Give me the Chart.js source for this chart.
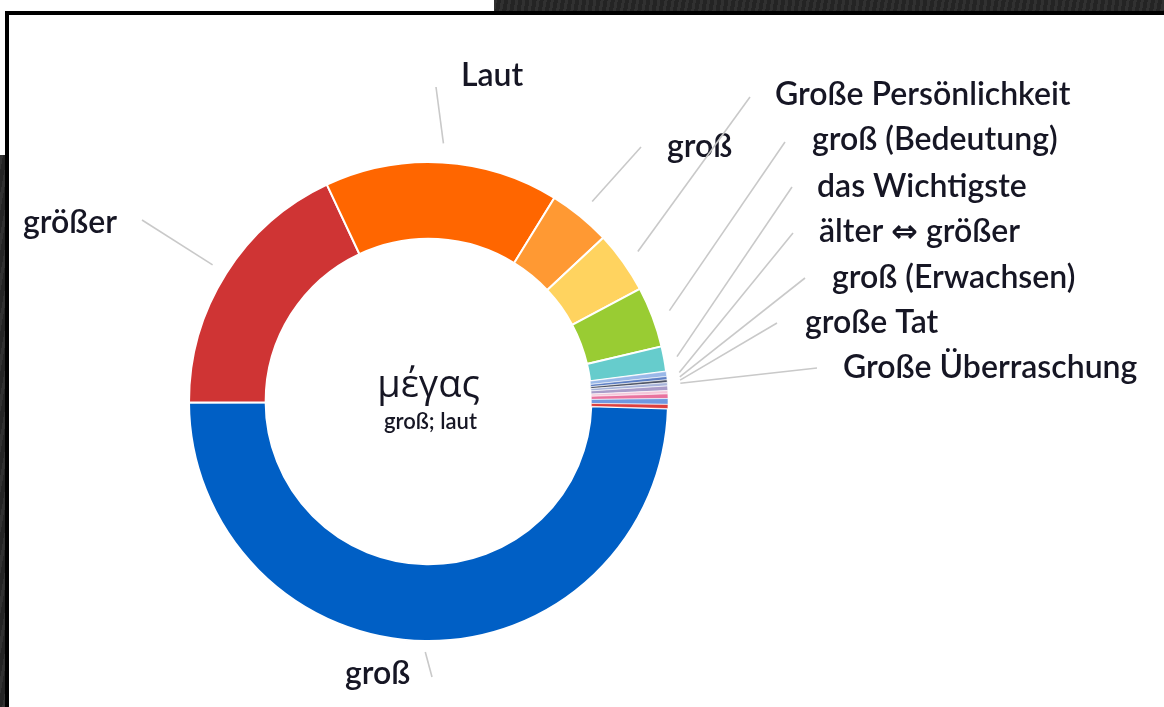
<!DOCTYPE html>
<html>
<head>
<meta charset="utf-8">
<script src="https://cdn.jsdelivr.net/npm/chart.js@4.4.1/dist/chart.umd.min.js"></script>
<style>
html,body{margin:0;padding:0;width:1164px;height:707px;overflow:hidden;background:#fff;}
.dark{position:absolute;background:#242424;background-image:repeating-linear-gradient(100deg,rgba(255,255,255,0.06) 0 3px,rgba(0,0,0,0) 3px 7px);}
.blk{position:absolute;background:#000;}
#wrap{position:absolute;left:0;top:0;width:1164px;height:707px;}
</style>
</head>
<body>
<div class="dark" style="left:494px;top:0;width:670px;height:13px"></div>
<div class="dark" style="left:0;top:155px;width:6px;height:552px"></div>
<div class="blk" style="left:5px;top:11px;width:1159px;height:4px"></div>
<div class="blk" style="left:5px;top:11px;width:4px;height:696px"></div>
<div id="wrap"><canvas id="c" width="1164" height="707"></canvas></div>
<script>
// ---- data ----
const categories = ['groß','größer','Laut','groß','Große Persönlichkeit','groß (Bedeutung)','das Wichtigste','älter ⇔ größer','groß (Erwachsen)','große Tat','Große Überraschung','','','','',''];
const shares = [49.5,18.1,15.8,4.2,4.2,4.1,1.7,0.33,0.22,0.19,0.22,0.31,0.22,0.31,0.39,0.28];
const centerTitle = 'μέγας';
const centerSubtitle = 'groß; laut';

// ---- styles / layout ----
const sliceColors = ['#005fc5','#cf3434','#ff6600','#ff9933','#ffd35f','#99cc33','#66cccc','#9ab8e8','#5d7fc4','#4f5566','#a7b3d9','#a99cc9','#f3c6da','#e9739f','#6f98e0','#dc3f3f'];
const sliceBorders = [2,2,2,2,2,2,2,0.6,0.6,0.6,0.6,0.6,0.6,0.6,0.6,0.6];
// label placement: text left/baseline, leader end point, gap from ring
const labelLayout = {
  0:{tx:345,ty:684,ex:432,ey:677,gap:11},
  1:{tx:23,ty:233,ex:142,ey:220,gap:16},
  2:{tx:461,ty:86,ex:436,ey:87,gap:19},
  3:{tx:667,ty:157,ex:641,ey:147,gap:19},
  4:{tx:775,ty:105,ex:750,ey:97,gap:18},
  5:{tx:812,ty:150,ex:785,ey:142,gap:18},
  6:{tx:817,ty:197,ex:792,ey:187,gap:13},
  7:{tx:819,ty:242,ex:793,ey:233,gap:13},
  8:{tx:832,ty:288,ex:805,ey:278,gap:13},
  9:{tx:805,ty:333,ex:777,ey:323,gap:13},
  10:{tx:843,ty:378,ex:817,ey:368,gap:13}
};
const textColor = '#161624';
const labelFont = '600 32px Lato, "Open Sans", "DejaVu Sans", sans-serif';

const labelPlugin = {
  id:'labels',
  afterDatasetsDraw(chart){
    const ctx = chart.ctx;
    const meta = chart.getDatasetMeta(0);
    ctx.save();
    meta.data.forEach((arc,i)=>{
      const L = labelLayout[i];
      if(!L || !categories[i]) return;
      const p = arc.getProps(['x','y','startAngle','endAngle','outerRadius'],true);
      const mid = (p.startAngle+p.endAngle)/2;
      const r = p.outerRadius + L.gap;
      const sx = p.x + Math.cos(mid)*r, sy = p.y + Math.sin(mid)*r;
      ctx.strokeStyle = '#c9c9c9';
      ctx.lineWidth = 1.6;
      ctx.beginPath(); ctx.moveTo(sx,sy); ctx.lineTo(L.ex,L.ey); ctx.stroke();
      ctx.fillStyle = textColor;
      ctx.font = labelFont;
      ctx.textAlign='left'; ctx.textBaseline='alphabetic';
      ctx.fillText(categories[i], L.tx, L.ty);
    });
    const a0 = meta.data[0];
    const cx = a0.x, cy = a0.y;
    ctx.textAlign='center'; ctx.textBaseline='alphabetic';
    ctx.fillStyle = textColor;
    ctx.font = '38px "Open Sans", "DejaVu Sans", sans-serif';
    ctx.fillText(centerTitle, cx, cy-5);
    ctx.font = '600 22px Lato, "Open Sans", "DejaVu Sans", sans-serif';
    ctx.fillText(centerSubtitle, cx+2, cy+27);
    ctx.restore();
  }
};

new Chart(document.getElementById('c'),{
  type:'doughnut',
  data:{labels:categories,datasets:[{data:shares,backgroundColor:sliceColors,borderColor:'#ffffff',borderWidth:sliceBorders}]},
  options:{
    responsive:false,animation:false,
    rotation:91.7,cutout:'68%',
    layout:{padding:{left:188,top:161,right:495,bottom:65}},
    plugins:{legend:{display:false},tooltip:{enabled:false}}
  },
  plugins:[labelPlugin]
});
</script>
</body>
</html>
